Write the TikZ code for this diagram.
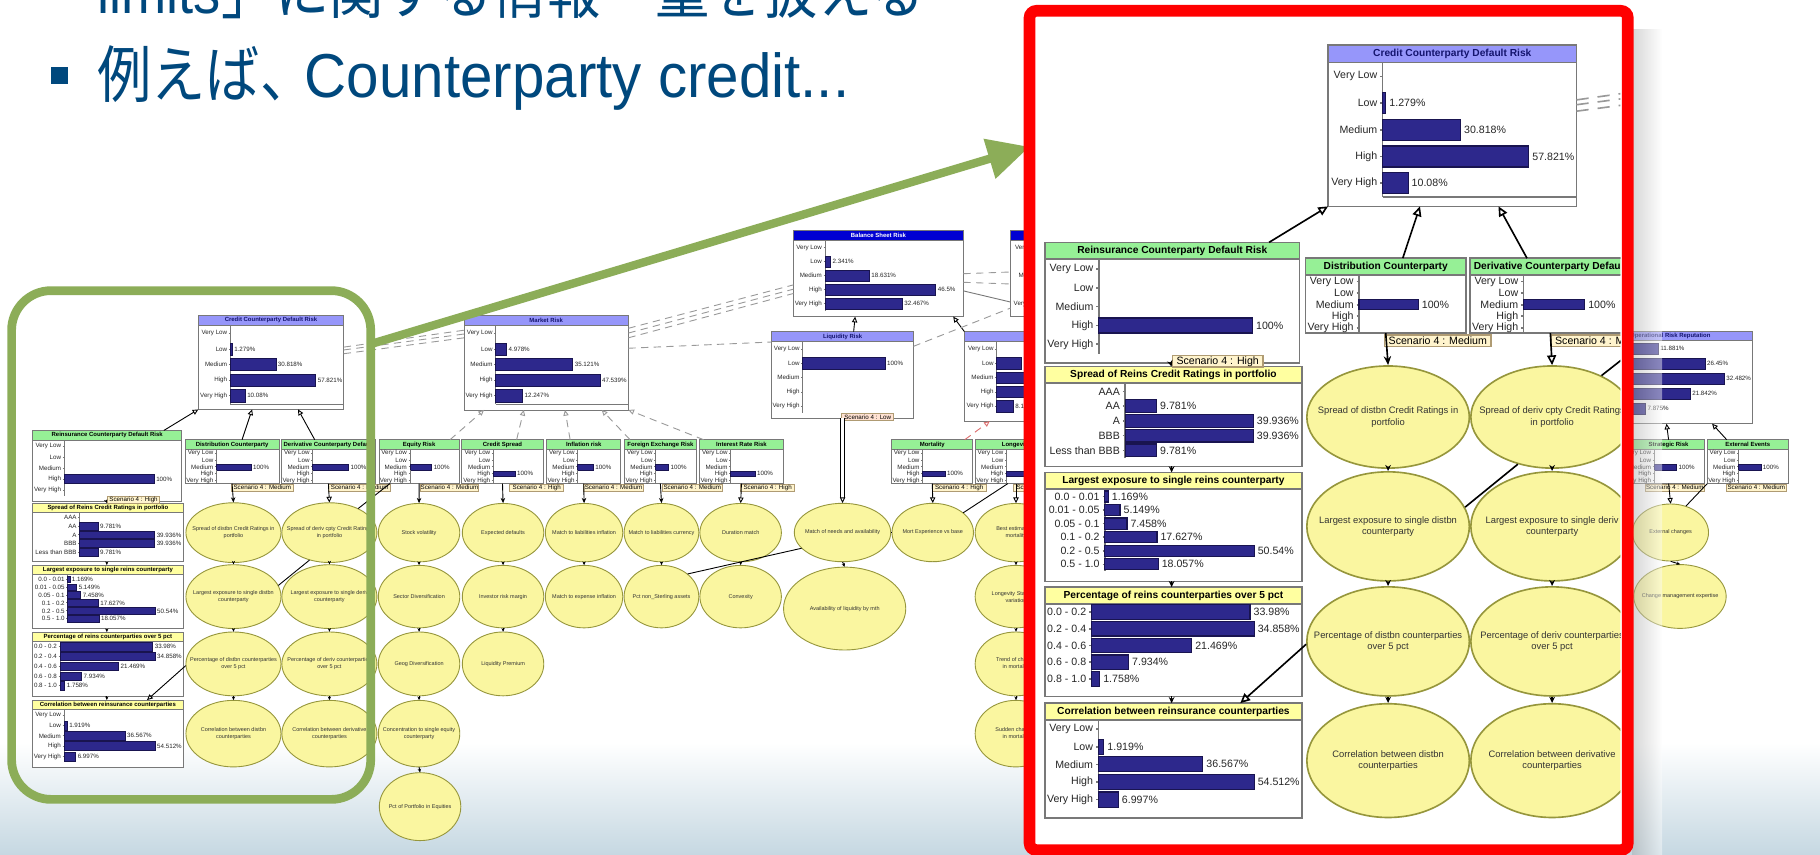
\documentclass[tikz,border=0pt]{standalone}
\usepackage{fontspec}
\setmainfont{Liberation Sans}
\newfontfamily\jpfont{Noto Sans CJK JP}
\usetikzlibrary{arrows.meta}
\usetikzlibrary{shapes.geometric}
\usetikzlibrary{calc}

\definecolor{hdrblue}{RGB}{0,72,125}
\definecolor{zoomgreen}{RGB}{140,173,88}
\definecolor{zoomred}{RGB}{255,0,0}
\definecolor{bnedge}{RGB}{120,120,120}
\definecolor{bnbarfill}{RGB}{45,40,140}
\definecolor{bnbaredge}{RGB}{25,20,80}
\definecolor{bnlav}{RGB}{150,150,250}
\definecolor{bngreen}{RGB}{150,240,150}
\definecolor{bnyellow}{RGB}{255,255,160}
\definecolor{bnblue}{RGB}{0,0,210}
\definecolor{bnnavy}{RGB}{20,20,110}
\definecolor{bnred}{RGB}{220,110,110}
\definecolor{ellfill}{RGB}{250,246,160}
\definecolor{elledge}{RGB}{150,150,60}
\definecolor{scenfill}{RGB}{255,244,205}
\definecolor{scenedge}{RGB}{175,155,115}
\definecolor{scenpink}{RGB}{255,226,210}
\definecolor{slideblue}{RGB}{198,216,226}

\newcommand{\bnlabfont}{\fontsize{2.6}{3}\selectfont}
\newcommand{\bntitlefont}{\fontsize{2.5}{3}\selectfont\bfseries}
\newcommand{\bnellfont}{\fontsize{2.3}{2.85}\selectfont}

\tikzset{
  bnline/.style={line width=0.4pt},
  bnframe/.style={draw=bnedge, fill=white, bnline, inner sep=0pt, outer sep=0pt},
  bntitle/.style={font=\bntitlefont, inner sep=0pt},
  bnlabel/.style={font=\bnlabfont, inner sep=0.4pt, text=black!85},
  bnbar/.style={fill=bnbarfill, draw=bnbaredge, line width=0.3pt},
  scenbox/.style={draw=scenedge, fill=scenfill, bnline, font=\bnlabfont, inner sep=0pt, minimum height=10*0.01cm},
  bnell/.style={ellipse, draw=elledge, fill=ellfill, bnline, inner sep=0pt},
  bnelltext/.style={font=\bnellfont, align=center, inner sep=0pt, text=black!80},
  bnopen/.style={-{Triangle[open, length=2.4pt, width=2.2pt]}},
  bnsolid/.style={-{Stealth[length=2.2pt, width=1.8pt]}},
  bntick/.style={-{Stealth[length=1.5pt, width=1.4pt]}},
  bndash/.style={dash pattern=on 3pt off 2.2pt, draw=gray!80},
  heading/.style={text=hdrblue, font=\fontsize{15.2}{18}\selectfont, inner sep=0pt},
  greenframe/.style={draw=zoomgreen, line width=0.075cm, rounded corners=0.34cm, inner sep=0pt, outer sep=0pt},
  zoomarrow/.style={draw=zoomgreen, line width=0.072cm, -{Triangle[length=0.36cm, width=0.34cm]}},
}

% box with title bar: name, x, y, width, height, title height, title fill, title
\newcommand{\riskbox}[8]{%
  \node[bnframe, minimum width=#4*0.01cm, minimum height=#5*0.01cm, anchor=north west] (#1) at (#2,#3) {};
  \node[bnframe, fill=#7, minimum width=#4*0.01cm, minimum height=#6*0.01cm, anchor=north west] (#1-head) at (#2,#3) {};
  \begin{scope}
    \clip (#1-head.south west) rectangle (#1-head.north east);
    \node[bntitle] at (#1-head.center) {#8};
  \end{scope}}

% bars: axis x, first row y, row step, length per percent, bar height, label/value list
\newcommand{\riskbars}[6]{%
  \foreach \lab/\val [count=\i from 0] in {#6} {
    \pgfmathsetmacro{\rowy}{#2+\i*#3}
    \draw[bnline, draw=bnedge] (#1,\rowy-#3/2) -- (#1,\rowy+#3/2);
    \draw[bnline, draw=bnedge] (#1-2,\rowy) -- (#1,\rowy);
    \node[bnlabel, anchor=east] at (#1-2.5,\rowy) {\lab};
    \ifdim\val pt>0pt
      \pgfmathsetmacro{\barx}{#1+#4*\val}
      \draw[bnbar] (#1,\rowy-#5/2) rectangle (\barx,\rowy+#5/2);
      \node[bnlabel, anchor=west] at (\barx+1,\rowy) {\val\%};
    \fi
  }}

\newcommand{\scenario}[6][]{%
  \node[scenbox, #1, minimum width=#5*0.01cm, anchor=north west] (#2) at (#3,#4) {#6};}

\newcommand{\riskell}[6]{%
  \node[bnell, minimum width=2*#4*0.01cm, minimum height=2*#5*0.01cm] (#1) at (#2,#3) {};
  \node[bnelltext] at (#1.center) {#6};}

% the whole network, in the coordinates of the enlarged view
\newcommand{\drawnet}{%
  \riskbox{ccdr}{0}{0}{214}{139}{15}{bnlav}{\color{bnnavy}Credit Counterparty Default Risk}
  \riskbars{47}{27}{23}{2.177}{18}{Very Low/0, Low/1.279, Medium/30.818, High/57.821, Very High/10.08}
  \draw[bnline, draw=bnedge] (47,131) -- (214,131);
  \riskbox{reins}{-244}{170}{219.5}{104}{14.5}{bngreen}{Reinsurance Counterparty Default Risk}
  \riskbars{-197.6}{193}{16.2}{1.325}{13}{Very Low/0, Low/0, Medium/0, High/100, Very High/0}
  \riskbox{dist}{-19.6}{183.6}{138.5}{64.6}{14.3}{bngreen}{Distribution Counterparty}
  \riskbars{26.6}{203.7}{10}{0.511}{8.5}{Very Low/0, Low/0, Medium/100, High/0, Very High/0}
  \riskbox{deriv}{122}{183.6}{139}{64.6}{14.3}{bngreen}{Derivative Counterparty Default}
  \riskbars{168.4}{203.7}{10}{0.527}{8.5}{Very Low/0, Low/0, Medium/100, High/0, Very High/0}
  \riskbox{spread}{-244}{276.9}{221.5}{86.1}{14.3}{bnyellow}{Spread of Reins Credit Ratings in portfolio}
  \riskbars{-174.8}{298.4}{12.7}{2.765}{11}{AAA/0, AA/9.781, A/39.936, BBB/39.936, Less than BBB/9.781}
  \riskbox{largest}{-244}{368.2}{221.5}{93.9}{14.3}{bnyellow}{Largest exposure to single reins counterparty}
  \riskbars{-192.3}{388.9}{11.7}{2.545}{9.5}{0.0 - 0.01/1.169, 0.01 - 0.05/5.149, 0.05 - 0.1/7.458, 0.1 - 0.2/17.627, 0.2 - 0.5/50.54, 0.5 - 1.0/18.057}
  \riskbox{pctover}{-244}{467}{221.5}{94.2}{14.3}{bnyellow}{Percentage of reins counterparties over 5 pct}
  \riskbars{-203.8}{488.5}{14.4}{4.019}{12.5}{0.0 - 0.2/33.98, 0.2 - 0.4/34.858, 0.4 - 0.6/21.469, 0.6 - 0.8/7.934, 0.8 - 1.0/1.758}
  \riskbox{corr}{-244}{567}{221.5}{99}{14.3}{bnyellow}{Correlation between reinsurance counterparties}
  \riskbars{-197.9}{589.3}{15.2}{2.462}{13}{Very Low/0, Low/1.919, Medium/36.567, High/54.512, Very High/6.997}
  \riskbox{market}{391.3}{0}{241.9}{139.8}{15}{bnlav}{\color{bnnavy}Market Risk}
  \riskbars{437.8}{27}{23}{3.232}{18}{Very Low/0, Low/4.978, Medium/35.121, High/47.539, Very High/12.247}
  \draw[bnline, draw=bnedge] (437.8,131) -- (633.2,131);
  \riskbox{equity}{266.2}{183.6}{117.7}{64.6}{14.3}{bngreen}{Equity Risk}
  \riskbars{311.6}{203.7}{10}{0.32}{8.5}{Very Low/0, Low/0, Medium/100, High/0, Very High/0}
  \riskbox{cspread}{387.7}{183.6}{120.3}{64.6}{14.3}{bngreen}{Credit Spread}
  \riskbars{434.4}{203.7}{10}{0.32}{8.5}{Very Low/0, Low/0, Medium/0, High/100, Very High/0}
  \riskbox{inflation}{513}{183.6}{109}{64.6}{14.3}{bngreen}{Inflation risk}
  \riskbars{558.6}{203.7}{10}{0.23}{8.5}{Very Low/0, Low/0, Medium/100, High/0, Very High/0}
  \riskbox{fxrisk}{626.9}{183.6}{106.9}{64.6}{14.3}{bngreen}{Foreign Exchange Risk}
  \riskbars{673.5}{203.7}{10}{0.19}{8.5}{Very Low/0, Low/0, Medium/100, High/0, Very High/0}
  \riskbox{irate}{737.8}{183.6}{123.8}{64.6}{14.3}{bngreen}{Interest Rate Risk}
  \riskbars{784}{203.7}{10}{0.358}{8.5}{Very Low/0, Low/0, Medium/0, High/100, Very High/0}
  \riskbox{balance}{876.3}{-124.1}{250.2}{126.5}{13.6}{bnblue}{\color{white}Balance Sheet Risk}
  \riskbars{922.8}{-99.1}{20.6}{3.51}{16}{Very Low/0, Low/2.341, Medium/18.631, High/46.5, Very High/32.467}
  \riskbox{liquidity}{844.3}{24.4}{208.7}{127.7}{14.9}{bnlav}{\color{bnnavy}Liquidity Risk}
  \riskbars{889.9}{50.6}{20.9}{1.214}{17}{Very Low/0, Low/100, Medium/0, High/0, Very High/0}
  \riskbox{insur}{1128}{24.4}{220}{132}{14.9}{bnlav}{}
  \riskbars{1175.7}{50.6}{20.9}{3}{17}{Very Low/0, Low/12.27, Medium/25.3, High/54.3, Very High/8.13}
  \riskbox{sheet2}{1196}{-124.1}{150}{126.5}{13.6}{bnblue}{}
  \riskbars{1245}{-99.1}{20.6}{1}{16}{Very Low/0, Low/0, Medium/0, High/0, Very High/0}
  \riskbox{mortality}{1021}{183.6}{119.5}{64.6}{14.3}{bngreen}{Mortality}
  \riskbars{1066.6}{203.7}{10}{0.33}{8.5}{Very Low/0, Low/0, Medium/0, High/100, Very High/0}
  \riskbox{longevity}{1144}{183.6}{120}{64.6}{14.3}{bngreen}{Longevity}
  \riskbars{1190}{203.7}{10}{0.33}{8.5}{Very Low/0, Low/0, Medium/0, High/100, Very High/0}
  \riskbox{oprisk}{2046}{23.6}{243}{136.4}{13.7}{bnlav}{\color{bnnavy}Operational Risk Reputation}
  \riskbars{2094}{49.4}{22.1}{4.72}{16}{Very Low/11.881, Low/26.45, Medium/32.482, High/21.842, Very High/7.875}
  \riskbox{strategic}{2112}{183.6}{106}{64.6}{14.3}{bngreen}{Strategic Risk}
  \riskbars{2144}{203.7}{10}{0.33}{8.5}{Very Low/0, Low/0, Medium/100, High/0, Very High/0}
  \riskbox{extevents}{2222}{183.6}{119}{64.6}{14.3}{bngreen}{External Events}
  \riskbars{2268}{203.7}{10}{0.33}{8.5}{Very Low/0, Low/0, Medium/100, High/0, Very High/0}
  % scenario tags
  \scenario{reinsscen}{-134.6}{266.8}{77.6}{Scenario 4 : High}
  \scenario{distscen}{48}{249}{91.7}{Scenario 4 : Medium}
  \scenario{derivscen}{191.4}{249}{91.7}{Scenario 4 : Medium}
  \scenario{equityscen}{326.5}{249}{85.8}{Scenario 4 : Medium}
  \scenario{cspreadscen}{458}{249}{80}{Scenario 4 : High}
  \scenario{inflscen}{567}{249}{88}{Scenario 4 : Medium}
  \scenario{fxscen}{683}{249}{88}{Scenario 4 : Medium}
  \scenario{iratescen}{798}{249}{80}{Scenario 4 : High}
  \scenario[fill=scenpink]{liqscen}{947.4}{144.8}{76}{Scenario 4 : Low}
  \scenario{mortscen}{1080}{249}{80}{Scenario 4 : High}
  \scenario{longscen}{1200}{249}{80}{Scenario 4 : High}
  \scenario{stratscen}{2130}{249}{88}{Scenario 4 : Medium}
  \scenario{extscen}{2250}{249}{88}{Scenario 4 : Medium}
  % chance nodes
  \riskell{dspread}{51.7}{320.5}{70}{44}{Spread of distbn Credit Ratings in\\portfolio}
  \riskell{dlargest}{51.7}{414.7}{70}{47}{Largest exposure to single distbn\\counterparty}
  \riskell{dpct}{51.7}{513.8}{70}{47}{Percentage of distbn counterparties\\over 5 pct}
  \riskell{dcorr}{51.7}{616.5}{70}{49}{Correlation between distbn\\counterparties}
  \riskell{vspread}{193}{320.5}{70}{44}{Spread of deriv cpty Credit Ratings\\in portfolio}
  \riskell{vlargest}{193}{414.7}{70}{47}{Largest exposure to single deriv\\counterparty}
  \riskell{vpct}{193}{513.8}{70}{47}{Percentage of deriv counterparties\\over 5 pct}
  \riskell{vcorr}{193}{616.5}{70}{49}{Correlation between derivative\\counterparties}
  \riskell{eq1}{325}{320.5}{60}{43}{Stock volatility}
  \riskell{eq2}{325}{414.7}{60}{46}{Sector Diversification}
  \riskell{eq3}{325}{513.8}{60}{47}{Geog Diversification}
  \riskell{eq4}{325}{616.5}{60}{49}{Concentration to single equity\\counterparty}
  \riskell{eq5}{326.5}{724}{60}{50}{Pct of Portfolio in Equities}
  \riskell{cs1}{448.7}{320.5}{60}{43}{Expected defaults}
  \riskell{cs2}{448.7}{414.7}{60}{46}{Investor risk margin}
  \riskell{cs3}{448.7}{513.8}{60}{47}{Liquidity Premium}
  \riskell{in1}{568}{320.5}{57}{43}{Match to liabilities inflation}
  \riskell{in2}{568}{414.7}{57}{46}{Match to expense inflation}
  \riskell{fx1}{682}{320.5}{55}{43}{Match to liabilities currency}
  \riskell{fx2}{682}{414.7}{55}{46}{Pct non\_Sterling assets}
  \riskell{ir1}{798.6}{320.5}{60}{43}{Duration match}
  \riskell{ir2}{798.6}{414.7}{60}{46}{Convexity}
  \riskell{needs}{948.65}{320.3}{71}{43}{Match of needs and availability}
  \riskell{avail}{951.8}{432.3}{90}{61}{Availability of liquidity by mth}
  \riskell{mortexp}{1081.5}{320.3}{60}{43}{Mort Experience vs base}
  \riskell{lg1}{1204}{320.5}{60}{43}{Best estimate of\\mortality}
  \riskell{lg2}{1204}{414.7}{60}{46}{Longevity Statistical\\variation}
  \riskell{lg3}{1204}{513.8}{60}{47}{Trend of change\\in mortality}
  \riskell{lg4}{1204}{616.5}{60}{49}{Sudden changes\\in mortality}
  \riskell{extchg}{2168}{320.3}{56}{42}{External changes}
  \riskell{chgmgmt}{2182}{414.5}{68}{47}{Change management expertise}
  % links
  \draw[bnline, bnopen] ($(reins.north west)!0.88!(reins.north east)$) -- (ccdr.south west);
  \draw[bnline, bnopen] ($(dist.north west)!0.606!(dist.north east)$) -- ($(ccdr.south west)!0.37!(ccdr.south east)$);
  \draw[bnline, bnopen] ($(deriv.north west)!0.355!(deriv.north east)$) -- ($(ccdr.south west)!0.686!(ccdr.south east)$);
  \draw[bnline, bnsolid] (dist.south) -- (dspread.north);
  \draw[bnline, bnopen] (deriv.south) -- (vspread.north);
  \foreach \na/\nb in {reins/spread, spread/largest, largest/pctover, pctover/corr}
    \draw[bnline, bntick] ($(\na.south west)!0.493!(\na.south east)$) -- ($(\nb.north west)!0.493!(\nb.north east)$);
  \foreach \na/\nb in {dspread/dlargest, dlargest/dpct, dpct/dcorr, vspread/vlargest, vlargest/vpct, vpct/vcorr, eq1/eq2, eq2/eq3, eq3/eq4, eq4/eq5, cs1/cs2, cs2/cs3, in1/in2, fx1/fx2, ir1/ir2, needs/avail, lg1/lg2, lg2/lg3, lg3/lg4, extchg/chgmgmt}
    \draw[bnline, bntick] (\na.south) -- (\nb.north);
  \draw[bnline] (vspread.234) -- (dlargest.14);
  \draw[bnline, bnopen] (dpct.182) -- ($(corr.north west)!0.76!(corr.north east)$);
  \draw[bnline] (vspread.40) -- ($(equity.south west)!0.135!(equity.south east)$);
  \foreach \bx/\ta/\tb in {equity/0.887/0.1215, cspread/0.673/0.3636, inflation/0.316/0.6145, fxrisk/0.082/0.8378, irate/0.05/1}
    \draw[bnline, bndash, bnopen] ($(\bx.north west)!\ta!(\bx.north east)$) -- ($(market.south west)!\tb!(market.south east)$);
  \foreach \bx/\nb in {equity/eq1, cspread/cs1, inflation/in1, fxrisk/fx1}
    \draw[bnline, bnsolid] (\bx.south) -- (\nb.north);
  \foreach \bx/\nb in {irate/ir1, mortality/mortexp, longevity/lg1, strategic/extchg}
    \draw[bnline, bnopen] (\bx.south) -- (\nb.north);
  \draw[bnline, double, double distance=0.8pt, bnopen] (liquidity.south) -- (needs.north);
  \draw[bnline] (fx2.41) -- (needs.201);
  \draw[bnline] (needs.east) -- (mortexp.west);
  \draw[bnline] (mortexp.33) -- ($(longevity.south west)!0.4!(longevity.south east)$);
  \draw[bnline, bnopen] ($(liquidity.north west)!0.578!(liquidity.north east)$) -- ($(balance.south west)!0.363!(balance.south east)$);
  \draw[bnline, bnopen] (insur.north west) -- ($(balance.south west)!0.94!(balance.south east)$);
  \draw[bnline, bndash, draw=bnred, bnopen] ($(mortality.north west)!0.9!(mortality.north east)$) -- ($(insur.south west)!0.17!(insur.south east)$);
  \foreach \ta/\tb in {0.34/0.16, 0.37/0.2, 0.41/0.24}
    \draw[bnline, bndash] ($(ccdr.north east)!\ta!(ccdr.south east)$) -- ($(market.north west)!\tb!(market.south west)$);
  \foreach \ta/\tb in {0.14/0.63, 0.19/0.68, 0.24/0.73}
    \draw[bnline, bndash] ($(market.north east)!\ta!(market.south east)$) -- ($(balance.north west)!\tb!(balance.south west)$);
  \draw[bnline, bndash] ($(market.north east)!0.35!(market.south east)$) -- ($(liquidity.north west)!0.12!(liquidity.south west)$);
  \draw[bnline, bndash] ($(liquidity.north east)!0.17!(liquidity.south east)$) -- ($(sheet2.north west)!0.9!(sheet2.south west)$);
  \foreach \ta/\tb in {0.5/0.48, 0.6/0.62}
    \draw[bnline, bndash] ($(balance.north east)!\ta!(balance.south east)$) -- ($(sheet2.north west)!\tb!(sheet2.south west)$);
  \draw[bnline, draw=bnedge] ($(balance.north east)!0.7!(balance.south east)$) -- ($(sheet2.north west)!0.83!(sheet2.south west)$);
  \draw[bnline, bnopen] (strategic.north) -- ($(oprisk.south west)!0.477!(oprisk.south east)$);
  \draw[bnline, bnopen] ($(extevents.north west)!0.24!(extevents.north east)$) -- ($(oprisk.south west)!0.753!(oprisk.south east)$);
  \draw[bnline] (extevents.south west) -- (extchg.60);
}

\begin{document}
\begin{tikzpicture}[x=0.01cm, y=-0.01cm]
  \useasboundingbox (0,0) rectangle (1568,736);
  \fill[white] (0,0) rectangle (1568,736);
  \shade[top color=white, bottom color=slideblue] (0,640) rectangle (1568,736);
  % heading
  \node[fill=hdrblue, minimum size=15*0.01cm, inner sep=0pt] (bullet) at (51.3,64.9) {};
  \begin{scope}[shift={(83.3,0)}, xscale=0.875, every node/.append style={transform shape}]
    \node[heading, anchor=base west] (cutline) at (0,12) {limits{\jpfont 」に関する情報・量を扱える}};
    \node[heading, anchor=base west] (example) at (0,84) {\jpfont 例えば、};
  \end{scope}
  \begin{scope}[shift={(262,0)}, xscale=0.94, every node/.append style={transform shape}]
    \node[heading, anchor=base west] (examplelatin) at (0,84) {Counterparty credit...};
  \end{scope}
  % overview of the network
  \begin{scope}[shift={(170.9,271.4)}, scale=0.585, every node/.append style={transform shape},
      bnline/.style={line width=0.22pt},
      bnbar/.style={fill=bnbarfill, draw=bnbaredge, line width=0.15pt},
      bnopen/.style={-{Triangle[open, length=1.4pt, width=1.3pt]}},
      bnsolid/.style={-{Stealth[length=1.3pt, width=1.1pt]}},
      bntick/.style={-{Stealth[length=0.9pt, width=0.8pt]}},
      bndash/.style={dash pattern=on 1.8pt off 1.3pt, draw=gray!80}]
    \drawnet
  \end{scope}
  \shade[left color=black!35, right color=white, opacity=0.45] (1406,25) rectangle (1432,736);
  % zoom frame
  \node[fill=white, inner sep=0pt, minimum width=514*0.01cm, minimum height=721.7*0.01cm, anchor=north west] (dstframe) at (887,9.3) {};
  \node[greenframe, minimum width=309.4*0.01cm, minimum height=438.3*0.01cm, anchor=north west] (srcframe) at (10,250.4) {};
  \draw[zoomarrow] ($(srcframe.north east)!0.105!(srcframe.south east)$) -- ($(dstframe.north west)!0.162!(dstframe.south west)$);
  \begin{scope}
    \clip (892,14) rectangle (1396,726);
    \begin{scope}[shift={(1144.2,38.8)}]
      \drawnet
    \end{scope}
  \end{scope}
  \draw[zoomred, line width=0.1cm, rounded corners=0.06cm] (dstframe.north west) rectangle (dstframe.south east);
\end{tikzpicture}
\end{document}
